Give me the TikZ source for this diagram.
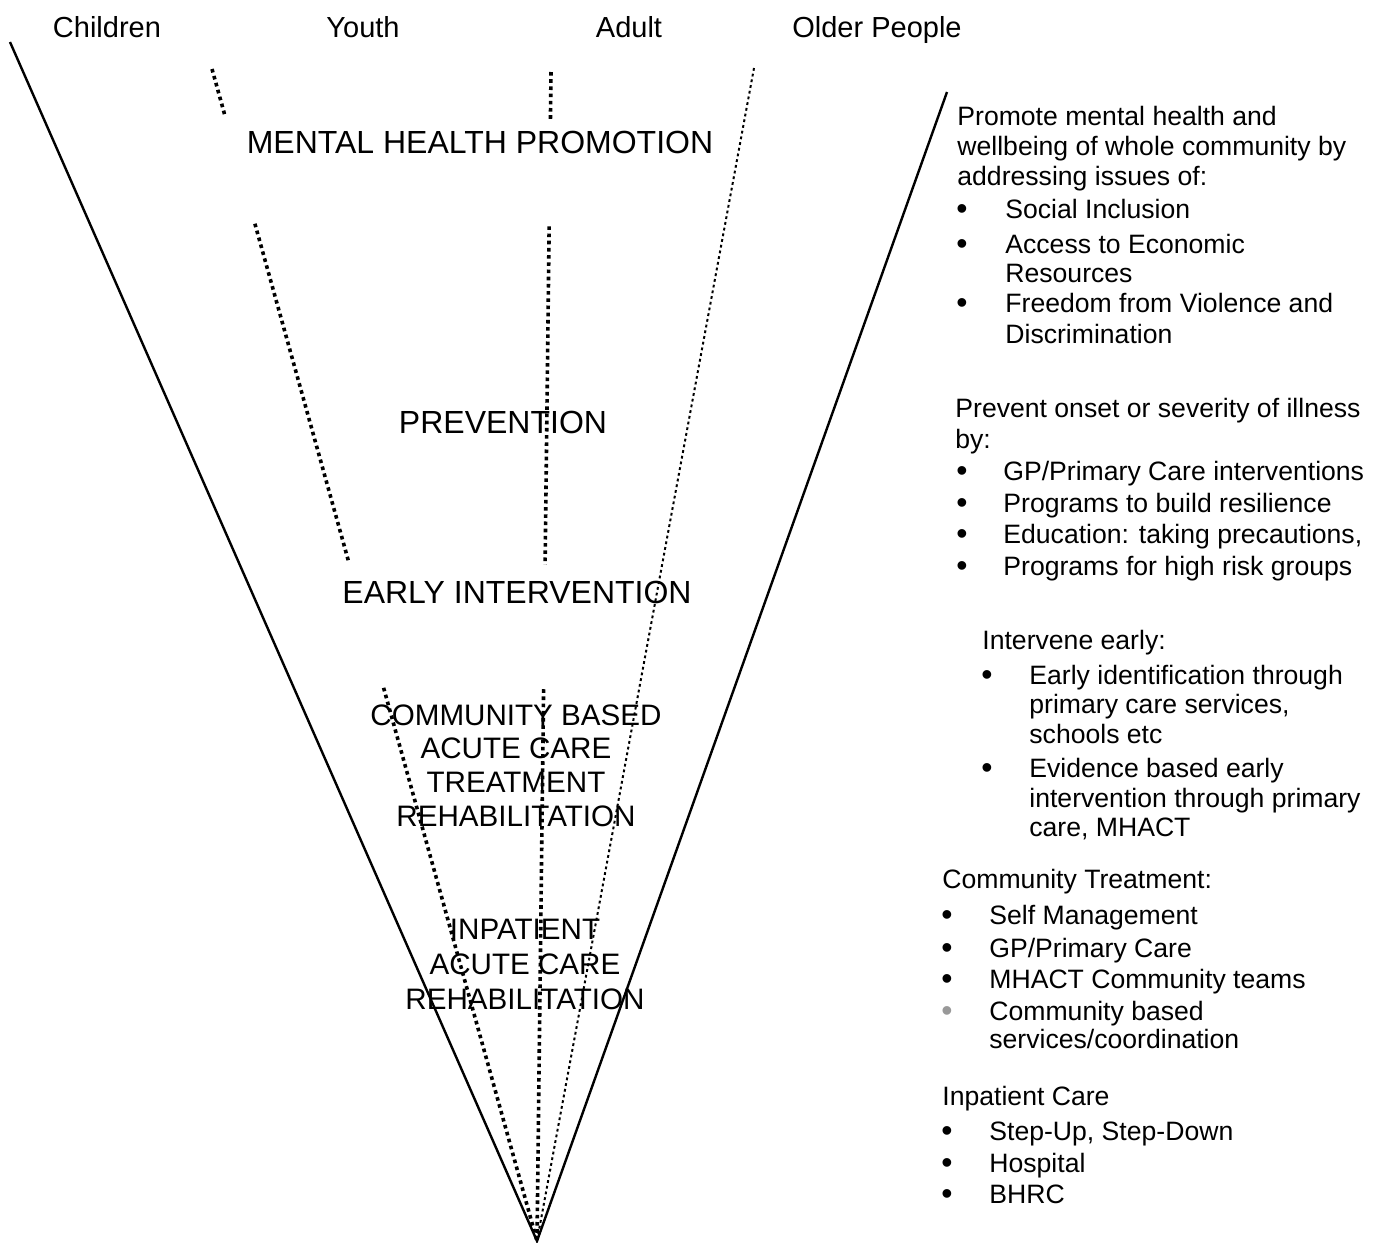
\documentclass[tikz,border=0pt]{standalone}
\usepackage{fontspec}
\setmainfont{Liberation Sans}
\usetikzlibrary{calc}
\definecolor{bulletgray}{gray}{0.6}

\tikzset{
  funnel/.style={line width=1.2pt},
  agedots/.style={line width=1.8pt, dash pattern=on 1.8pt off 1.8pt},
  agedotsthin/.style={line width=1pt, dash pattern=on 1.4pt off 1.5pt},
  agelabel/.style={font=\fontsize{14.5}{17}\selectfont, anchor=base, inner sep=0pt},
  tierlabel/.style={font=\fontsize{16}{16.9}\selectfont, align=center, inner sep=0pt},
  tierblock/.style={tierlabel, anchor=north, font=\fontsize{14.8}{16.9}\selectfont},
  notetext/.style={font=\fontsize{13.3}{15}\selectfont, anchor=base west, inner sep=0pt},
  notebullet/.style={font=\fontsize{16}{16}\selectfont, anchor=base, inner sep=0pt,
    text height=7pt, text depth=0pt, yshift=-0.75pt},
}

\begin{document}
\begin{tikzpicture}[x=0.5pt, y=-0.5pt]
\useasboundingbox (0,0) rectangle (1383,1243);

% age groups along the top
\node[agelabel] (children) at (107,37) {Children};
\node[agelabel] (youth) at (363,37) {Youth};
\node[agelabel] (adult) at (629,37) {Adult};
\node[agelabel] (older) at (877,37) {Older People};

% funnel outline and age dividers
\coordinate (apex) at (537,1241);
\coordinate (lefttop) at (10,42);
\coordinate (righttop) at (947,92);
\coordinate (youthtop) at (212,69);
\coordinate (adulttop) at (551,72);
\coordinate (oldtop) at (754,68);
\draw[funnel] (lefttop) -- (apex) -- (righttop);
\draw[agedotsthin] (oldtop) -- (apex);
\foreach \a/\b in {0/0.041, 0.132/0.4215, 0.528/1}{
  \draw[agedots] ($(youthtop)!\a!(apex)$) -- ($(youthtop)!\b!(apex)$);
  \draw[agedots] ($(adulttop)!\a!(apex)$) -- ($(adulttop)!\b!(apex)$);
}

% tiers of the funnel
\node[tierlabel, anchor=base] (promotion) at (480,153) {MENTAL HEALTH PROMOTION};
\node[tierlabel, anchor=base] (prevention) at (503,433) {PREVENTION};
\node[tierlabel, anchor=base] (early) at (517,603) {EARLY INTERVENTION};
\node[tierblock] (community) at (516,704)
  {COMMUNITY BASED\\ACUTE CARE\\TREATMENT\\REHABILITATION};
\node[tierblock, font=\fontsize{14.8}{17.5}\selectfont] (inpatient) at (525,919)
  {INPATIENT\\ACUTE CARE\\REHABILITATION};

% notes: promotion
\foreach \y/\txt [count=\i] in {125/{Promote mental health and}, 155/{wellbeing of whole community by}, 185/{addressing issues of:}}
  \node[notetext] (promohead\i) at (957,\y) {\txt};
\foreach \y [count=\i] in {218,253,312}
  \node[notebullet] (promobul\i) at (962,\y) {•};
\foreach \y/\txt [count=\i] in {218/{Social Inclusion}, 253/{Access to Economic}, 282/{Resources}, 312/{Freedom from Violence and}, 343/{Discrimination}}
  \node[notetext] (promoitem\i) at (1005,\y) {\txt};

% notes: prevention
\foreach \y/\txt [count=\i] in {417/{Prevent onset or severity of illness}, 448/{by:}}
  \node[notetext] (prevhead\i) at (955,\y) {\txt};
\foreach \y/\txt [count=\i] in {480/{GP/Primary Care interventions}, 512/{Programs to build resilience}, 543/{Education: taking precautions,}, 575/{Programs for high risk groups}}{
  \node[notebullet] (prevbul\i) at (962,\y) {•};
  \node[notetext] (previtem\i) at (1003,\y) {\txt};
}

% notes: early intervention
\node[notetext] (earlyhead) at (982,649) {Intervene early:};
\foreach \y [count=\i] in {684,777}
  \node[notebullet] (earlybul\i) at (987,\y) {•};
\foreach \y/\txt [count=\i] in {684/{Early identification through}, 713/{primary care services,}, 743/{schools etc}, 777/{Evidence based early}, 807/{intervention through primary}, 836/{care, MHACT}}
  \node[notetext] (earlyitem\i) at (1029,\y) {\txt};

% notes: community treatment
\node[notetext] (commhead) at (942,888) {Community Treatment:};
\foreach \y [count=\i] in {924,957,988}
  \node[notebullet] (commbul\i) at (947,\y) {•};
\node[notebullet, text=bulletgray] (commbul4) at (947,1020) {•};
\foreach \y/\txt [count=\i] in {924/{Self Management}, 957/{GP/Primary Care}, 988/{MHACT Community teams}, 1020/{Community based}, 1048/{services/coordination}}
  \node[notetext] (commitem\i) at (989,\y) {\txt};

% notes: inpatient care
\node[notetext] (inpathead) at (942,1105) {Inpatient Care};
\foreach \y/\txt [count=\i] in {1140/{Step-Up, Step-Down}, 1172/{Hospital}, 1203/{BHRC}}{
  \node[notebullet] (inpatbul\i) at (947,\y) {•};
  \node[notetext] (inpatitem\i) at (989,\y) {\txt};
}
\end{tikzpicture}
\end{document}
